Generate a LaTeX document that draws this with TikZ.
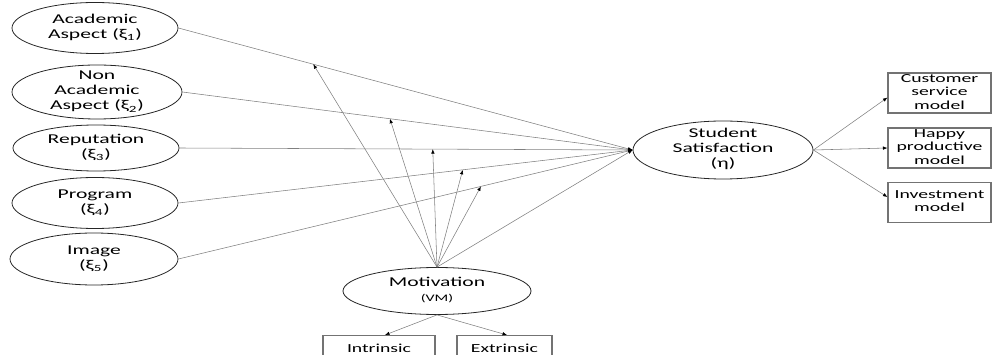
\documentclass[tikz,border=0pt]{standalone}
\usepackage{fontspec}
\setmainfont{Carlito}
\usetikzlibrary{shapes.geometric,calc,arrows.meta}
\newcommand\widetext[1]{\scalebox{1.6}[1]{\begin{tabular}{@{}c@{}}#1\end{tabular}}}
\begin{document}
\begin{tikzpicture}[x=1pt,y=-1pt,
  elli/.style={ellipse,draw=black!85,line width=0.8pt,inner sep=0pt},
  txt/.style={inner sep=0pt,font=\fontsize{13.5}{15}\selectfont},
  btxt/.style={inner sep=0pt,font=\fontsize{12.3}{13.5}\selectfont},
  sbox/.style={rectangle,draw=black!55,line width=1.1pt,inner sep=0pt},
  link/.style={draw=black!50,line width=0.55pt},
  arr/.style={link,-{Latex[length=4.5pt,width=3.5pt,color=black]}}
]
\useasboundingbox (0,0) rectangle (993,355);
\clip (0,0) rectangle (993,355);
% left ellipses
\node[elli,minimum width=166pt,minimum height=51pt] (e1) at (95,28) {};
\node[txt] (e1t) at (e1) {\widetext{Academic\\Aspect (ξ\textsubscript{1})}};
\node[elli,minimum width=170pt,minimum height=54pt] (e2) at (97,92) {};
\node[txt] (e2t) at (e2) {\widetext{Non\\Academic\\Aspect (ξ\textsubscript{2})}};
\node[elli,minimum width=166pt,minimum height=46pt] (e3) at (96,148) {};
\node[txt] (e3t) at (e3) {\widetext{Reputation\\(ξ\textsubscript{3})}};
\node[elli,minimum width=166pt,minimum height=51pt] (e4) at (95,203) {};
\node[txt] (e4t) at (e4) {\widetext{Program\\(ξ\textsubscript{4})}};
\node[elli,minimum width=168pt,minimum height=52pt] (e5) at (94,259) {};
\node[txt] (e5t) at (e5) {\widetext{Image\\(ξ\textsubscript{5})}};
% student satisfaction
\node[elli,minimum width=180pt,minimum height=58pt] (ss) at (723,150) {};
\node[txt] (sst) at (ss) {\widetext{Student\\Satisfaction\\(η)}};
% motivation
\node[elli,minimum width=188pt,minimum height=47pt] (mv) at (437,291) {};
\node[txt] (mvt) at (mv) {\widetext{Motivation\\{\fontsize{10}{11}\selectfont (VM)}}};
% right boxes
\node[sbox,minimum width=103pt,minimum height=40pt] (b1) at (939.5,93) {};
\node[btxt] (b1t) at (b1) {\widetext{Customer\\service\\model}};
\node[sbox,minimum width=103pt,minimum height=40pt] (b2) at (939.5,148) {};
\node[btxt] (b2t) at (b2) {\widetext{Happy\\productive\\model}};
\node[sbox,minimum width=103pt,minimum height=40pt] (b3) at (939.5,202.5) {};
\node[btxt] (b3t) at (b3) {\widetext{Investment\\model}};
% bottom boxes
\node[sbox,anchor=north,minimum width=112pt,minimum height=45pt] (bi) at (379,335) {};
\node[btxt,anchor=base] (bit) at (379,352.5) {\scalebox{1.6}[1]{Intrinsic}};
\node[sbox,anchor=north,minimum width=95pt,minimum height=45pt] (bx) at (504.5,335) {};
\node[btxt,anchor=base] (bxt) at (504.5,352.5) {\scalebox{1.6}[1]{Extrinsic}};
% paths to satisfaction
\foreach \e in {e1,e2,e3,e4,e5} {\draw[arr] (\e.east) -- (ss.west);}
\draw[arr] (mv.north) -- (ss.west);
% moderating points
\coordinate (m1) at ($(e1.east)!0.297!(ss.west)$);
\coordinate (m2) at ($(e2.east)!0.461!(ss.west)$);
\coordinate (m3) at ($(e3.east)!0.559!(ss.west)$);
\coordinate (m4) at ($(e4.east)!0.626!(ss.west)$);
\coordinate (m5) at ($(e5.east)!0.666!(ss.west)$);
\foreach \m in {m1,m2,m3,m4,m5} {\draw[arr] (mv.north) -- (\m);}
% outcomes
\draw[arr] (ss.east) -- (b1.185);
\draw[arr] (ss.east) -- (b2.west);
\draw[arr] (ss.east) -- (b3.174);
% motivation dimensions
\draw[arr] (mv.south) -- ($(bi.north)+(6,0)$);
\draw[arr] (mv.south) -- ($(bx.north)+(2.5,0)$);
\end{tikzpicture}
\end{document}
